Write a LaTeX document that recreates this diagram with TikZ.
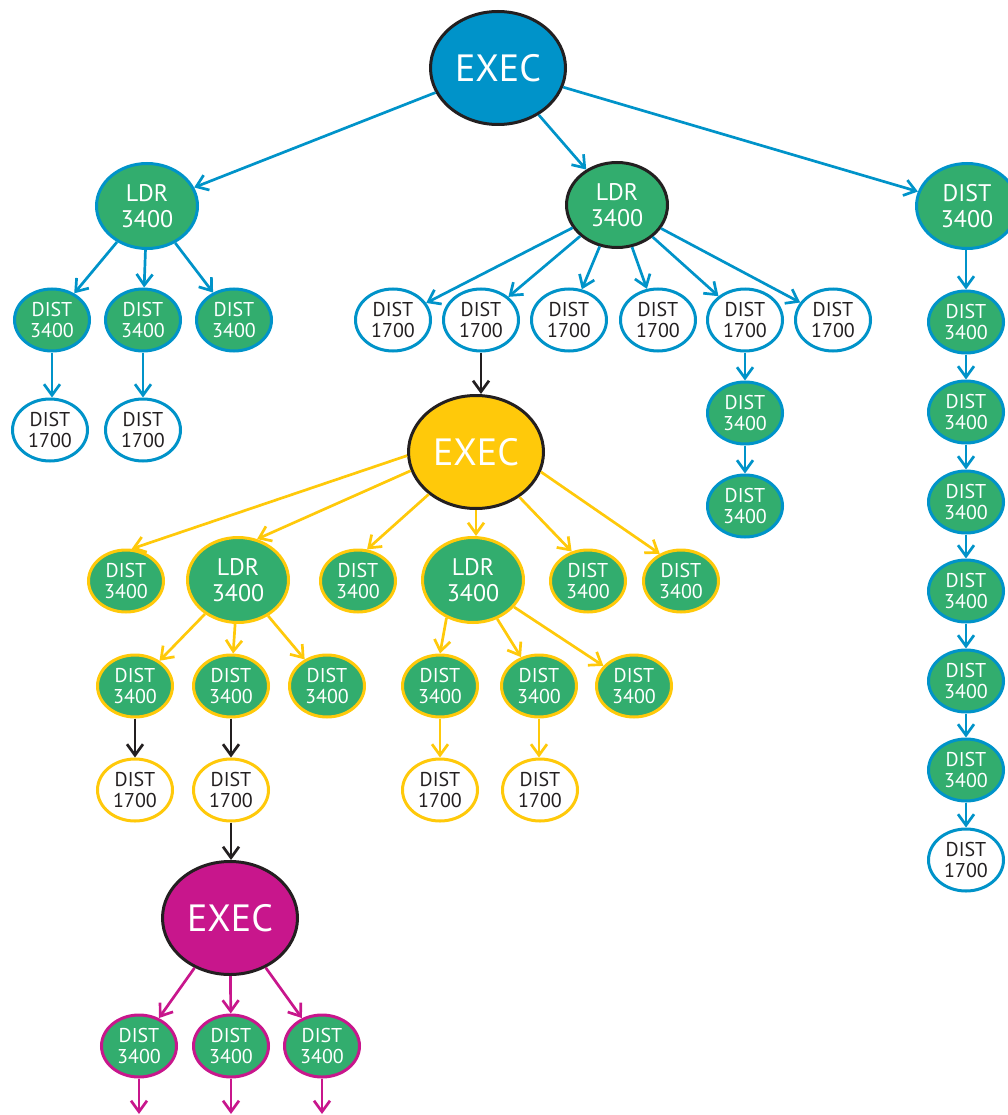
\documentclass[tikz,border=0pt]{standalone}
\usepackage{fontspec}
\setmainfont{PT Sans}
\usetikzlibrary{shapes.geometric,arrows.meta}
\definecolor{cblue}{RGB}{0,147,201}
\definecolor{cgreen}{RGB}{50,173,110}
\definecolor{cyel}{RGB}{255,201,10}
\definecolor{cmag}{RGB}{200,22,140}
\definecolor{cdark}{RGB}{35,31,32}
\tikzset{
  execnode/.style={ellipse, draw=cdark, line width=3pt, minimum width=135pt, minimum height=113pt, inner sep=0pt, text=white, font=\fontsize{38}{40}\selectfont},
  ldrnode/.style={ellipse, fill=cgreen, line width=3pt, minimum width=101pt, minimum height=85pt, inner sep=0pt, text=white, align=center, font=\fontsize{24}{26}\selectfont},
  dgnode/.style={ellipse, fill=cgreen, line width=3pt, minimum width=75pt, minimum height=62pt, inner sep=0pt, text=white, align=center, font=\fontsize{20}{21.5}\selectfont},
  dwnode/.style={ellipse, fill=white, line width=3pt, minimum width=75pt, minimum height=62pt, inner sep=0pt, text=cdark, align=center, font=\fontsize{20}{21.5}\selectfont},
  conn/.style={line width=2.7pt, -{Straight Barb[length=11pt,width=16pt,line width=2.7pt]}},
  bl/.style={conn, draw=cblue},
  yl/.style={conn, draw=cyel},
  mg/.style={conn, draw=cmag},
  bk/.style={conn, draw=cdark},
}
\begin{document}
\begin{tikzpicture}[x=1pt,y=-1pt]
\useasboundingbox (0,0) rectangle (1008,1115);

% top level
\node[execnode, fill=cblue] (e1) at (498,68) {EXEC};
\node[ldrnode, draw=cblue] (l1) at (147,206) {LDR\\3400};
\node[ldrnode, draw=cdark] (l2) at (617,205) {LDR\\3400};
\node[ldrnode, draw=cblue] (r0) at (967,206) {DIST\\3400};

% left branch
\node[dgnode, draw=cblue] (a1) at (52,320) {DIST\\3400};
\node[dgnode, draw=cblue] (a2) at (143,320) {DIST\\3400};
\node[dgnode, draw=cblue] (a3) at (234,320) {DIST\\3400};
\node[dwnode, draw=cblue] (a4) at (50,430) {DIST\\1700};
\node[dwnode, draw=cblue] (a5) at (143,430) {DIST\\1700};

% middle branch
\node[dwnode, draw=cblue] (b1) at (393,320) {DIST\\1700};
\node[dwnode, draw=cblue] (b2) at (481,320) {DIST\\1700};
\node[dwnode, draw=cblue] (b3) at (569,320) {DIST\\1700};
\node[dwnode, draw=cblue] (b4) at (658,320) {DIST\\1700};
\node[dwnode, draw=cblue] (b5) at (745,320) {DIST\\1700};
\node[dwnode, draw=cblue] (b6) at (833,320) {DIST\\1700};
\node[dgnode, draw=cblue] (b7) at (745,413) {DIST\\3400};
\node[dgnode, draw=cblue] (b8) at (745,506) {DIST\\3400};

% right column
\node[dgnode, draw=cblue] (r1) at (966,322) {DIST\\3400};
\node[dgnode, draw=cblue] (r2) at (966,412) {DIST\\3400};
\node[dgnode, draw=cblue] (r3) at (966,502) {DIST\\3400};
\node[dgnode, draw=cblue] (r4) at (966,591) {DIST\\3400};
\node[dgnode, draw=cblue] (r5) at (966,681) {DIST\\3400};
\node[dgnode, draw=cblue] (r6) at (966,770) {DIST\\3400};
\node[dwnode, draw=cblue] (r7) at (966,860) {DIST\\1700};

% yellow exec
\node[execnode, fill=cyel] (e2) at (476,452) {EXEC};
\node[dgnode, draw=cyel] (c1) at (126,581) {DIST\\3400};
\node[ldrnode, draw=cyel] (c2) at (238,580) {LDR\\3400};
\node[dgnode, draw=cyel] (c3) at (358,581) {DIST\\3400};
\node[ldrnode, draw=cyel] (c4) at (473,580) {LDR\\3400};
\node[dgnode, draw=cyel] (c5) at (588,581) {DIST\\3400};
\node[dgnode, draw=cyel] (c6) at (681,581) {DIST\\3400};

\node[dgnode, draw=cyel] (d1) at (135,686) {DIST\\3400};
\node[dgnode, draw=cyel] (d2) at (231,686) {DIST\\3400};
\node[dgnode, draw=cyel] (d3) at (327,686) {DIST\\3400};
\node[dwnode, draw=cyel] (d4) at (135,790) {DIST\\1700};
\node[dwnode, draw=cyel] (d5) at (231,790) {DIST\\1700};

\node[dgnode, draw=cyel] (f1) at (440,686) {DIST\\3400};
\node[dgnode, draw=cyel] (f2) at (539,686) {DIST\\3400};
\node[dgnode, draw=cyel] (f3) at (634,686) {DIST\\3400};
\node[dwnode, draw=cyel] (f4) at (440,790) {DIST\\1700};
\node[dwnode, draw=cyel] (f5) at (540,790) {DIST\\1700};

% magenta exec
\node[execnode, fill=cmag] (e3) at (230,918) {EXEC};
\node[dgnode, draw=cmag] (g1) at (139,1046) {DIST\\3400};
\node[dgnode, draw=cmag] (g2) at (231,1046) {DIST\\3400};
\node[dgnode, draw=cmag] (g3) at (322,1046) {DIST\\3400};
\coordinate (h1) at (139,1114);
\coordinate (h2) at (231,1114);
\coordinate (h3) at (322,1114);

% blue connectors
\draw[bl] (e1) -- (l1);
\draw[bl] (e1) -- (l2);
\draw[bl] (e1) -- (r0);
\draw[bl] (l1) -- (a1);
\draw[bl] (l1) -- (a2);
\draw[bl] (l1) -- (a3);
\draw[bl] (a1) -- (a1 |- a4.north);
\draw[bl] (a2) -- (a5);
\foreach \n in {b1,b2,b3,b4,b5,b6} \draw[bl] (l2) -- (\n);
\draw[bl] (b5) -- (b7);
\draw[bl] (b7) -- (b8);
\draw[bl] (r0.south -| r1) -- (r1);
\draw[bl] (r1) -- (r2);
\draw[bl] (r2) -- (r3);
\draw[bl] (r3) -- (r4);
\draw[bl] (r4) -- (r5);
\draw[bl] (r5) -- (r6);
\draw[bl] (r6) -- (r7);

% black connectors
\draw[bk] (b2) -- (b2 |- e2.north);
\draw[bk] (d1) -- (d4);
\draw[bk] (d2) -- (d5);
\draw[bk] (d5) -- (d5 |- e3.north);

% yellow connectors
\draw[yl] (e2.183) -- (c1.80);
\draw[yl] (e2.196) -- (c2.65);
\draw[yl] (e2) -- (c3.74);
\draw[yl] (e2.south) -- (e2.south |- c4.north);
\draw[yl] (e2) -- (c5.119);
\draw[yl] (e2.343) -- (c6.128);
\draw[yl] (c2) -- (d1);
\draw[yl] (c2) -- (d2);
\draw[yl] (c2) -- (d3);
\draw[yl] (c4.235) -- (f1.north);
\draw[yl] (c4) -- (f2);
\draw[yl] (c4) -- (f3);
\draw[yl] (f1) -- (f4);
\draw[yl] (f2) -- (f2 |- f5.north);

% magenta connectors
\draw[mg] (e3) -- (g1);
\draw[mg] (e3) -- (g2);
\draw[mg] (e3) -- (g3);
\draw[mg] (g1) -- (h1);
\draw[mg] (g2) -- (h2);
\draw[mg] (g3) -- (h3);
\end{tikzpicture}
\end{document}
